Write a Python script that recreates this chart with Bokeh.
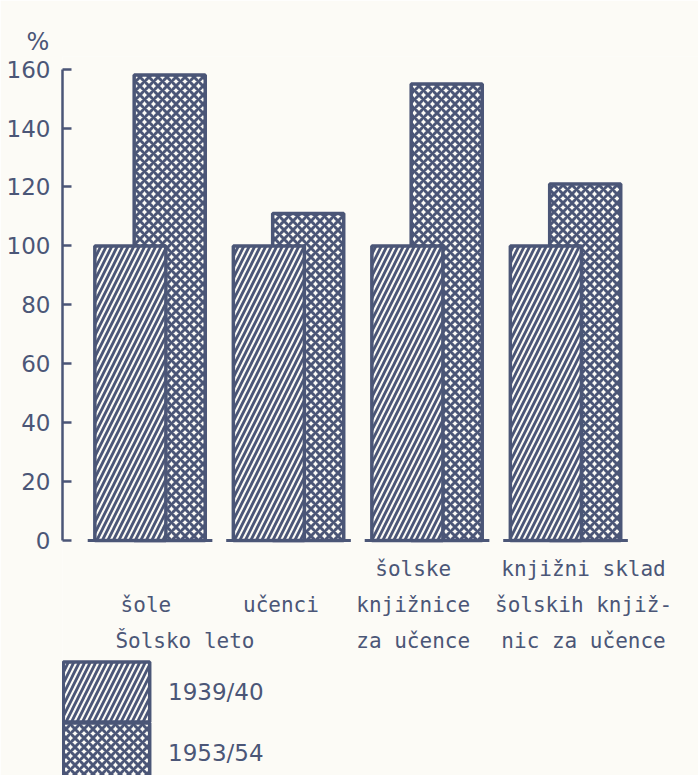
from bokeh.plotting import figure
from bokeh.models import Range1d, FixedTicker, Legend, LegendItem, ColumnDataSource
from bokeh.core.properties import value
from bokeh.embed import file_html
from bokeh.resources import INLINE

# ---- data ----
categories = ["šole", "učenci", "šolske\nknjižnice\nza učence", "knjižni sklad\nšolskih knjiž-\nnic za učence"]
years = ["1939/40", "1953/54"]
v1939 = [100, 100, 100, 100]
v1953 = [158, 111, 155, 121]
yticks = [0, 20, 40, 60, 80, 100, 120, 140, 160]
legend_title = "Šolsko leto"
unit_label = "%"

# ---- style ----
INK = "#4b5677"
PAPER = "#fcfbf6"
label_dx = [-0.03, -0.055, -0.10, 0.13]   # label nudges (style only)

W, H = 698, 775
p = figure(width=W, height=H, output_backend="svg", toolbar_location=None,
           x_range=Range1d(-0.632, 3.960), y_range=Range1d(-79.8, 164.3),
           min_border_left=62, min_border_right=0, min_border_top=56, min_border_bottom=0,
           background_fill_color=PAPER, border_fill_color=PAPER, outline_line_color=None,
           title=unit_label)
p.title.text_color = INK
p.title.text_font = "DejaVu Sans"
p.title.text_font_size = "24px"
p.title.text_font_style = "normal"
p.title.align = "left"
p.title.offset = -36
p.title.standoff = 2

p.xaxis.visible = False
p.xgrid.visible = False
p.ygrid.visible = False

ax = p.yaxis[0]
ax.ticker = FixedTicker(ticks=yticks)
ax.bounds = (0, 160)
ax.axis_line_color = INK
ax.axis_line_width = 2.5
ax.major_tick_line_color = INK
ax.major_tick_line_width = 2.5
ax.major_tick_in = 9
ax.major_tick_out = 0
ax.minor_tick_line_color = None
ax.major_label_text_color = INK
ax.major_label_text_font = "DejaVu Sans"
ax.major_label_text_font_size = "23px"
ax.major_label_standoff = 12

xs = list(range(len(categories)))
dodge = 0.142
bw = 0.513
src = ColumnDataSource(dict(
    x1=[x - dodge for x in xs], x2=[x + dodge for x in xs], y1=v1939, y2=v1953))

r2 = p.vbar(x="x2", top="y2", bottom=0, width=bw, source=src,
            fill_color=PAPER, line_color=INK, line_width=3.5,
            hatch_pattern="x", hatch_color=INK, hatch_scale=9, hatch_weight=3)
r1 = p.vbar(x="x1", top="y1", bottom=0, width=bw, source=src,
            fill_color=PAPER, line_color=INK, line_width=3.5,
            hatch_pattern="/", hatch_color=INK, hatch_scale=11, hatch_weight=2.8)

# baselines under each group
p.segment(x0=[x - 0.45 for x in xs], x1=[x + 0.45 for x in xs], y0=[0] * 4, y1=[0] * 4,
          line_color=INK, line_width=3)

# category labels (multi-line, vertically centred on one row)
step = 12.2
yc = -22.0
tx, ty, tt = [], [], []
for x, dx, cat in zip(xs, label_dx, categories):
    lines = cat.split("\n")
    n = len(lines)
    for k, ln in enumerate(lines):
        tx.append(x + dx)
        ty.append(yc + (n - 1) / 2 * step - k * step)
        tt.append(ln)
p.text(x=tx, y=ty, text=tt, text_align="center", text_baseline="middle",
       text_color=INK, text_font=value("DejaVu Sans Mono"), text_font_size="21px")

# legend title row
p.text(x=[-0.25], y=[yc - step], text=[legend_title], text_align="left", text_baseline="middle",
       text_color=INK, text_font=value("DejaVu Sans Mono"), text_font_size="21px")

# legend: one entry per year, stacked so that the swatches touch
leg_style = dict(orientation="vertical", glyph_width=108, glyph_height=75, label_height=75,
                 spacing=0, padding=0, margin=0, label_standoff=8,
                 label_text_font="DejaVu Sans", label_text_font_size="23px",
                 label_text_color=INK, border_line_alpha=0, background_fill_alpha=0)
leg_a = Legend(items=[LegendItem(label=years[0], renderers=[r1])], location=(-10, 46), **leg_style)
leg_b = Legend(items=[LegendItem(label=years[1], renderers=[r2])], location=(-10, -15), **leg_style)
p.add_layout(leg_a, "center")
p.add_layout(leg_b, "center")

open("out.html", "w").write(file_html(p, INLINE))
